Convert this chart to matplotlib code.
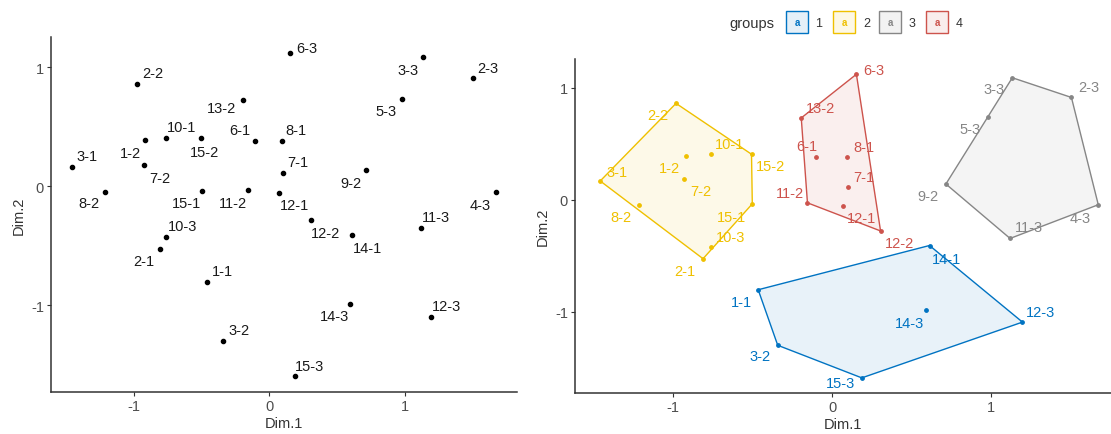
import numpy as np
import matplotlib
matplotlib.use("Agg")
import matplotlib.pyplot as plt
from matplotlib.patches import Rectangle

plt.rcParams['font.family'] = ['Liberation Sans', 'DejaVu Sans']
plt.rcParams['axes.unicode_minus'] = False

# point names, coordinates and cluster membership
labels = ['1-1', '1-2', '2-1', '2-2', '2-3', '3-1', '3-2', '3-3', '4-3', '5-3',
          '6-1', '6-3', '7-1', '7-2', '8-1', '8-2', '9-2', '10-1', '10-3', '11-2',
          '11-3', '12-1', '12-2', '12-3', '13-2', '14-1', '14-3', '15-1', '15-2', '15-3']
dim1 = [-0.465, -0.918, -0.812, -0.982, 1.506, -1.459, -0.342, 1.134, 1.675, 0.984,
        -0.103, 0.153, 0.098, -0.930, 0.091, -1.218, 0.716, -0.762, -0.762, -0.155,
        1.120, 0.069, 0.305, 1.198, -0.194, 0.613, 0.593, -0.502, -0.507, 0.187]
dim2 = [-0.805, 0.391, -0.528, 0.859, 0.912, 0.166, -1.301, 1.088, -0.046, 0.735,
        0.380, 1.119, 0.116, 0.181, 0.380, -0.044, 0.139, 0.405, -0.427, -0.029,
        -0.347, -0.060, -0.280, -1.094, 0.729, -0.410, -0.990, -0.038, 0.405, -1.592]
groups = [1, 2, 2, 2, 3, 2, 1, 3, 3, 3,
          4, 4, 4, 2, 4, 2, 3, 2, 2, 4,
          3, 4, 4, 1, 4, 1, 1, 2, 2, 1]
group_names = ['1', '2', '3', '4']
group_colors = ['#0073C2', '#EFC000', '#868686', '#CD534C']

# label offsets in pixels (dx, dy) for the repelled labels
off_left = {
    '1-1': (16, 11), '1-2': (-15, -13), '2-1': (-16, -12), '2-2': (16, 11), '2-3': (15, 10),
    '3-1': (15, 11), '3-2': (16, 11), '3-3': (-15, -13), '4-3': (-16, -13), '5-3': (-16, -12),
    '6-1': (-16, 11), '6-3': (17, 5), '7-1': (15, 11), '7-2': (16, -13), '8-1': (14, 11),
    '8-2': (-16, -11), '9-2': (-15, -13), '10-1': (15, 11), '10-3': (16, 11), '11-2': (-15, -13),
    '11-3': (15, 11), '12-1': (16, -12), '12-2': (15, -13), '12-3': (15, 11), '13-2': (-22, -8),
    '14-1': (15, -13), '14-3': (-15, -12), '15-1': (-15, -12), '15-2': (4, -14), '15-3': (15, 10),
}
off_right = {
    '1-1': (-17, -12), '1-2': (-17, -12), '2-1': (-18, -12), '2-2': (-18, -12), '2-3': (17, 10),
    '3-1': (17, 9), '3-2': (-18, -11), '3-3': (-18, -11), '4-3': (-18, -13), '5-3': (-18, -12),
    '6-1': (-9, 11), '6-3': (17, 4), '7-1': (16, 10), '7-2': (17, -12), '8-1': (17, 10),
    '8-2': (-18, -12), '9-2': (-18, -12), '10-1': (19, 10), '10-3': (20, 10), '11-2': (-18, 10),
    '11-3': (19, 11), '12-1': (18, -12), '12-2': (19, -12), '12-3': (18, 10), '13-2': (19, 10),
    '14-1': (17, -13), '14-3': (-17, -13), '15-1': (-21, -13), '15-2': (19, -12), '15-3': (-21, -5),
}

dim1 = np.array(dim1)
dim2 = np.array(dim2)
groups = np.array(groups)


def convex_hull(pts):
    pts = sorted(map(tuple, pts))
    def cross(o, a, b):
        return (a[0] - o[0]) * (b[1] - o[1]) - (a[1] - o[1]) * (b[0] - o[0])
    lower, upper = [], []
    for p in pts:
        while len(lower) >= 2 and cross(lower[-2], lower[-1], p) <= 0:
            lower.pop()
        lower.append(p)
    for p in reversed(pts):
        while len(upper) >= 2 and cross(upper[-2], upper[-1], p) <= 0:
            upper.pop()
        upper.append(p)
    return np.array(lower[:-1] + upper[:-1])


def style_axes(ax):
    for s in ['top', 'right']:
        ax.spines[s].set_visible(False)
    for s in ['left', 'bottom']:
        ax.spines[s].set_color('#333333')
        ax.spines[s].set_linewidth(1.1)
    ax.set_xticks([-1, 0, 1])
    ax.set_yticks([-1, 0, 1])
    ax.tick_params(length=3, width=0.8, color='#333333', labelsize=10.5, labelcolor='#4D4D4D', pad=2)
    ax.set_xlabel('Dim.1', fontsize=10.5, color='#333333', labelpad=2)
    ax.set_ylabel('Dim.2', fontsize=10.5, color='#333333', labelpad=4)
    ax.set_xlim(-1.616, 1.832)
    ax.set_ylim(-1.728, 1.255)


fig = plt.figure(figsize=(11.11, 4.35), dpi=100)

# left panel: plain scatter
ax1 = fig.add_axes([0.0459, 0.0966, 0.4194, 0.816])
style_axes(ax1)
ax1.scatter(dim1, dim2, s=9, color='black', zorder=3)
for lab, x, y in zip(labels, dim1, dim2):
    dx, dy = off_left[lab]
    ax1.annotate(lab, (x, y), xytext=(dx, dy), textcoords='offset pixels',
                 ha='center', va='center', fontsize=10.5, color='#1A1A1A')

# right panel: clusters with hulls
ax2 = fig.add_axes([0.5175, 0.094, 0.4825, 0.768])
style_axes(ax2)
ax2.set_xlim(-1.618, 1.755)
for gi, (gname, col) in enumerate(zip(group_names, group_colors)):
    mask = groups == gi + 1
    pts = np.column_stack([dim1[mask], dim2[mask]])
    hull = convex_hull(pts)
    ax2.fill(hull[:, 0], hull[:, 1], facecolor=col, alpha=0.09, edgecolor='none', zorder=1)
    ax2.fill(hull[:, 0], hull[:, 1], facecolor='none', edgecolor=col, linewidth=1.0, zorder=2)
    ax2.scatter(pts[:, 0], pts[:, 1], s=6, color=col, zorder=3)
    for lab, x, y in zip(np.array(labels)[mask], pts[:, 0], pts[:, 1]):
        dx, dy = off_right[lab]
        ax2.annotate(lab, (x, y), xytext=(dx, dy), textcoords='offset pixels',
                     ha='center', va='center', fontsize=10.5, color=col, zorder=4)

# legend on top
W, H = 1111, 435
fig.text(752 / W, 1 - 24 / H, 'groups', ha='center', va='center', fontsize=10.5, color='#333333')
key_x = [786, 833, 879, 926]
lab_x = [819, 867, 912, 959]
for kx, lx, gname, col in zip(key_x, lab_x, group_names, group_colors):
    fig.add_artist(Rectangle((kx / W, 1 - 34 / H), 22 / W, 22 / H, transform=fig.transFigure,
                             facecolor=matplotlib.colors.to_rgba(col, 0.1), edgecolor=col, linewidth=1.0))
    fig.text((kx + 11) / W, 1 - 23 / H, 'a', ha='center', va='center', fontsize=7,
             fontweight='bold', color=col)
    fig.text(lx / W, 1 - 24 / H, gname, ha='center', va='center', fontsize=9, color='#333333')

fig.savefig('out.png', dpi=100)
